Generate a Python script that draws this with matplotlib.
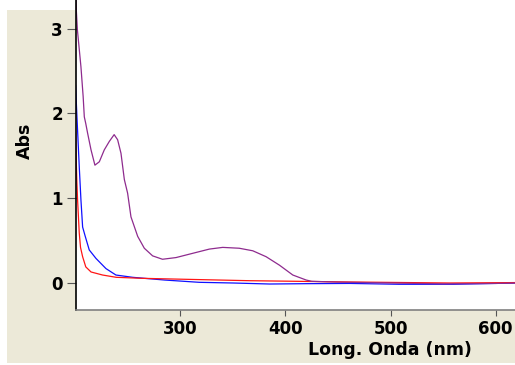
import matplotlib
matplotlib.use('Agg')
import matplotlib.pyplot as plt
from matplotlib.patches import Rectangle

plt.rcParams['font.family'] = ['DejaVu Sans']

# Spectra (wavelength in nm, absorbance)
purple_nm = [200.3, 201.0, 202.0, 205.4, 207.5, 208.6, 210.0, 211.7, 215.0, 218.7,
             222.9, 227.6, 232.4, 237.0, 240.3, 243.5, 246.7, 249.8, 253.0, 259.4,
             265.7, 273.6, 283.0, 295.9, 311.7, 327.6, 340.3, 356.0, 368.9, 381.6,
             394.3, 407.0, 419.7, 425.0, 450.0, 500.0, 550.0, 600.0, 620.0]
purple_abs = [3.5, 3.22, 2.99, 2.55, 2.2, 1.96, 1.88, 1.77, 1.57, 1.39,
              1.43, 1.57, 1.67, 1.75, 1.69, 1.53, 1.22, 1.06, 0.78, 0.55,
              0.41, 0.32, 0.28, 0.30, 0.35, 0.40, 0.42, 0.41, 0.38, 0.31,
              0.21, 0.094, 0.035, 0.02, 0.01, 0.0, -0.01, -0.005, 0.0]

blue_nm = [200.3, 201.6, 203.8, 205.4, 207.0, 209.5, 213.3, 219.7, 229.2, 238.7,
           254.6, 285.0, 318.0, 350.0, 385.0, 420.0, 461.0, 508.0, 560.0, 600.0, 620.0]
blue_abs = [2.33, 1.96, 1.37, 0.98, 0.66, 0.55, 0.39, 0.29, 0.17, 0.094,
            0.067, 0.035, 0.008, 0.0, -0.012, -0.008, -0.005, -0.015, -0.015, -0.005, 0.0]

red_nm = [200.3, 200.8, 201.5, 202.2, 203.8, 205.0, 207.0, 210.0, 215.0, 226.0,
          239.0, 264.0, 300.0, 366.0, 461.0, 556.0, 620.0]
red_abs = [1.78, 1.5, 1.2, 0.98, 0.59, 0.42, 0.31, 0.19, 0.13, 0.094,
           0.067, 0.055, 0.045, 0.027, 0.012, 0.0, 0.005]

x_ticks = [300, 400, 500, 600]
y_ticks = [0, 1, 2, 3]

W, H = 515, 365
fig = plt.figure(figsize=(W / 100, H / 100), dpi=100, facecolor='white')
fig.patches.append(Rectangle((7 / W, 2 / H), 1, (H - 12) / H, transform=fig.transFigure,
                             facecolor='#ECE9D8', edgecolor='none', zorder=-1))

ax = fig.add_axes([76 / W, 55 / H, (W - 76) / W, 310 / H])
ax.set_facecolor('white')

ax.plot(blue_nm, blue_abs, color='#1010FF', lw=0.9)
ax.plot(red_nm, red_abs, color='#FF1515', lw=0.9)
ax.plot(purple_nm, purple_abs, color='#8E2B8E', lw=0.9)

ax.set_xlim(200.7, 618.4)
ax.set_ylim(-0.3185, 3.338)
ax.set_xticks(x_ticks)
ax.set_yticks(y_ticks)

for s in ['top', 'right']:
    ax.spines[s].set_visible(False)
ax.spines['left'].set_color('black')
ax.spines['bottom'].set_color('#808080')
ax.spines['left'].set_linewidth(1.2)
ax.spines['bottom'].set_linewidth(1.2)

ax.tick_params(axis='x', direction='out', length=4, width=0.8, color='#555555',
               pad=3.3, labelsize=12)
ax.tick_params(axis='y', direction='out', length=6.5, width=0.8, color='#555555',
               pad=3, labelsize=12)
for lab in ax.get_xticklabels() + ax.get_yticklabels():
    lab.set_fontweight('bold')

ax.set_xlabel('Long. Onda (nm)', fontsize=12.5, fontweight='bold')
ax.xaxis.set_label_coords(0.715, -0.10)
ax.set_ylabel('Abs', fontsize=12.5, fontweight='bold')
ax.yaxis.set_label_coords(-0.0957, 0.545)

fig.savefig('out.png', dpi=100, facecolor=fig.get_facecolor())
